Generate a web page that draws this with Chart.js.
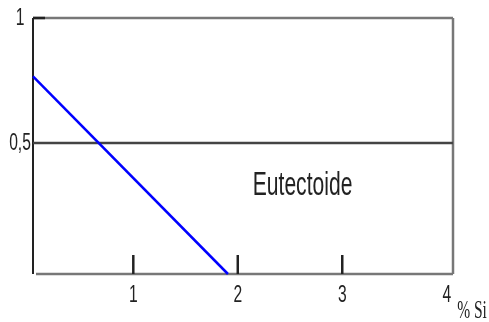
<!DOCTYPE html>
<html>
<head>
<meta charset="utf-8">
<script src="https://cdn.jsdelivr.net/npm/chart.js@4/dist/chart.umd.min.js"></script>
<style>
  body { margin: 0; background: #fff; }
  #wrap { width: 489px; height: 322px; }
</style>
</head>
<body>
<div id="wrap"><canvas id="siChart"></canvas></div>
<script>
// values
const siPercent = [0.04, 1.906];
const fraction = [0.766, -0.025];
const xTicks = [1, 2, 3, 4];
const xTickLabels = ['1', '2', '3', '4'];
const yTicks = [1, 0.5];
const yTickLabels = ['1', '0,5'];
const xAxisTitle = '% Si';
const regionLabel = 'Eutectoide';

function seg(ctx, x1, y1, x2, y2, color, w) {
  ctx.beginPath();
  ctx.strokeStyle = color;
  ctx.lineWidth = w;
  ctx.moveTo(x1, y1);
  ctx.lineTo(x2, y2);
  ctx.stroke();
}

// narrow text, the picture is squeezed sideways
function narrowText(ctx, text, x, y, font, sx) {
  ctx.save();
  ctx.translate(x, y);
  ctx.scale(sx, 1);
  ctx.font = font;
  ctx.fillStyle = '#222';
  ctx.textAlign = 'center';
  ctx.textBaseline = 'middle';
  ctx.fillText(text, 0, 0);
  ctx.restore();
}

const framePlugin = {
  id: 'frame',
  beforeDatasetsDraw(chart) {
    const { ctx, chartArea: a, scales: { x, y } } = chart;
    ctx.save();
    seg(ctx, a.left, a.top, a.right, a.top, '#777', 2.5);
    seg(ctx, a.right, a.top, a.right, a.bottom, '#777', 2.5);
    seg(ctx, a.left + 3, a.bottom, a.right, a.bottom, '#777', 2.5);
    seg(ctx, a.left, a.top, a.left, a.bottom, '#222', 2);
    const yHalf = y.getPixelForValue(0.5);
    seg(ctx, a.left, yHalf, a.right, yHalf, '#444', 2.5);
    seg(ctx, a.left, a.top, a.left + 12, a.top, '#222', 2.5);
    xTicks.slice(0, 3).forEach(v => {
      const px = x.getPixelForValue(v);
      seg(ctx, px, a.bottom - 19, px, a.bottom, '#222', 2.5);
    });
    ctx.restore();
  },
  afterDraw(chart) {
    const { ctx, scales: { x, y } } = chart;
    yTicks.forEach((v, i) => {
      narrowText(ctx, yTickLabels[i], 20, y.getPixelForValue(v) + 1, '23px "Liberation Sans"', 0.68);
    });
    xTicks.forEach((v, i) => {
      narrowText(ctx, xTickLabels[i], x.getPixelForValue(v), 296, '23px "Liberation Sans"', 0.68);
    });
    narrowText(ctx, xAxisTitle, 472, 311, '25px "Liberation Serif"', 0.62);
    narrowText(ctx, regionLabel, x.getPixelForValue(2.62), y.getPixelForValue(0.33), '34px "Liberation Sans"', 0.62);
  }
};

new Chart(document.getElementById('siChart'), {
  type: 'scatter',
  data: {
    datasets: [{
      label: 'limit',
      data: siPercent.map((v, i) => ({ x: v, y: fraction[i] })),
      showLine: true,
      borderColor: '#0000ff',
      borderWidth: 2.5,
      pointRadius: 0,
      clip: false
    }]
  },
  options: {
    responsive: true,
    maintainAspectRatio: false,
    animation: false,
    layout: { padding: { top: 18, right: 36, left: 0, bottom: 0 } },
    plugins: { legend: { display: false }, tooltip: { enabled: false } },
    scales: {
      x: {
        type: 'linear', min: 0.04, max: 4.06,
        grid: { display: false }, border: { display: false },
        ticks: { display: false },
        afterFit: s => { s.height = 48; }
      },
      y: {
        min: -0.025, max: 1,
        grid: { display: false }, border: { display: false },
        ticks: { display: false },
        afterFit: s => { s.width = 33; }
      }
    }
  },
  plugins: [framePlugin]
});
</script>
</body>
</html>
